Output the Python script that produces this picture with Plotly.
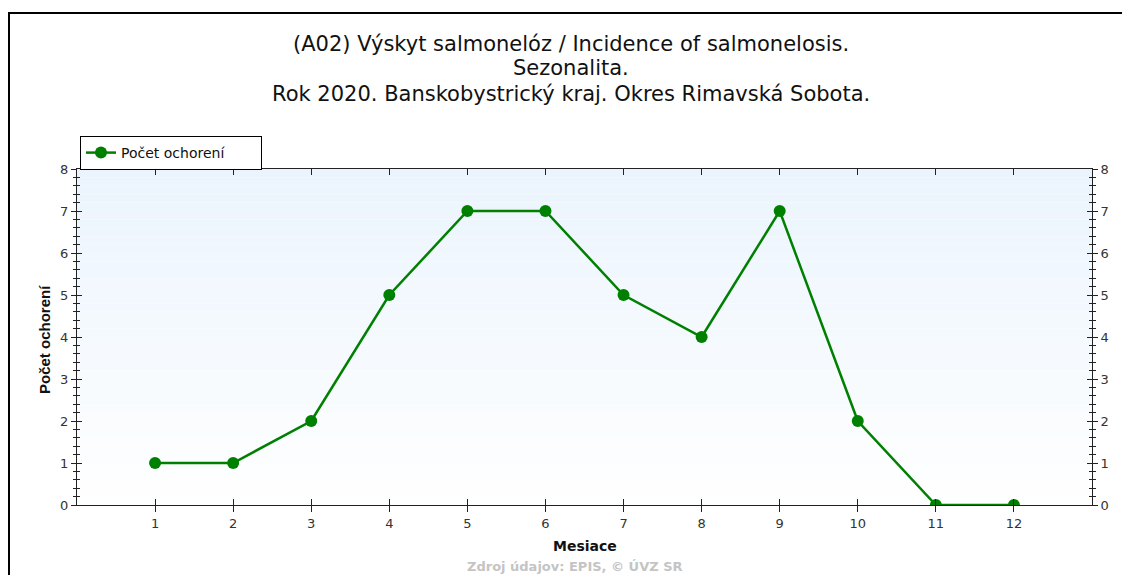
import plotly.graph_objects as go

months = [1, 2, 3, 4, 5, 6, 7, 8, 9, 10, 11, 12]
cases = [1, 1, 2, 5, 7, 7, 5, 4, 7, 2, 0, 0]
series_name = "Počet ochorení"
title_lines = [
    "(A02) Výskyt salmonelóz / Incidence of salmonelosis.",
    "Sezonalita.",
    "Rok 2020. Banskobystrický kraj. Okres Rimavská Sobota.",
]
x_title = "Mesiace"
y_title = "Počet ochorení"
source_text = "Zdroj údajov: EPIS, © ÚVZ SR"

# page body has an 8px default margin: lay out the figure in page pixels minus that offset
OFF = 8
W, H = 1130 - OFF, 575 - OFF
PL, PR, PT, PB = 77, 1092, 169, 505          # plot area in page pixels
L, T = PL - OFF, PT - OFF
R, B = W - (PR - OFF), H - (PB - OFF)
pw, ph = W - L - R, H - T - B

GREEN = "#008000"
FONT = "Liberation Sans, Arial, sans-serif"
WIDE = "DejaVu Sans, Verdana, sans-serif"


def px(x):
    return (x - OFF - L) / pw


def py(y):
    return (H - B - (y - OFF)) / ph


fig = go.Figure()
fig.add_trace(go.Scatter(
    x=months, y=cases, mode="lines+markers", name=series_name,
    line=dict(color=GREEN, width=2.5),
    marker=dict(color=GREEN, size=12, symbol="circle"),
    xaxis="x", yaxis="y",
))

# gradient background bands
shapes = []
n = 40
top = (235, 244, 253)
for i in range(n):
    t = i / n
    c = tuple(round(top[k] + (255 - top[k]) * t) for k in range(3))
    shapes.append(dict(type="rect", xref="x domain", yref="y domain",
                       x0=0, x1=1, y0=1 - (i + 1) / n, y1=1 - i / n,
                       fillcolor="rgb(%d,%d,%d)" % c, line=dict(width=0), layer="below"))
# outer frame
shapes.append(dict(type="rect", xref="paper", yref="paper",
                   x0=px(9), x1=px(1160), y0=py(600), y1=py(13),
                   line=dict(color="black", width=2), fillcolor="rgba(0,0,0,0)", layer="above"))

yr = [0, 8]
xr = [0, 13]
tickfont = dict(family=WIDE, size=13, color="#333333")
common_y = dict(range=yr, dtick=1, tick0=0, showgrid=False, zeroline=False,
                showline=True, linecolor="#222222", linewidth=1, tickcolor="#222222",
                ticklen=5, tickwidth=1, tickfont=tickfont, fixedrange=True, automargin=False,
                minor=dict(dtick=0.2, ticklen=3, tickcolor="#222222", tickwidth=1, showgrid=False))

title_y = [44, 68, 94]
annotations = []
for line, yy in zip(title_lines, title_y):
    annotations.append(dict(text=line, xref="paper", yref="paper", x=px(571), y=py(yy),
                            xanchor="center", yanchor="middle", showarrow=False,
                            font=dict(family=WIDE, size=21, color="#111111")))
annotations.append(dict(text="<b>%s</b>" % x_title, xref="paper", yref="paper",
                        x=px(585), y=py(546), xanchor="center", yanchor="middle", showarrow=False,
                        font=dict(family=WIDE, size=14, color="#111111")))
annotations.append(dict(text="<b>%s</b>" % y_title, xref="paper", yref="paper",
                        x=px(44), y=py(340), xanchor="center", yanchor="middle", showarrow=False,
                        textangle=-90, font=dict(family=FONT, size=15, color="#111111")))
annotations.append(dict(text="<b>%s</b>" % source_text, xref="paper", yref="paper",
                        x=px(575), y=py(566), xanchor="center", yanchor="middle", showarrow=False,
                        font=dict(family=WIDE, size=13, color="#c4c4c4")))

fig.update_layout(
    width=W, height=H,
    margin=dict(l=L, r=R, t=T, b=B, autoexpand=False),
    paper_bgcolor="white", plot_bgcolor="white",
    font=dict(family=FONT, color="#222222"),
    showlegend=True,
    legend=dict(x=px(80), y=py(136), xanchor="left", yanchor="top",
                orientation="h", entrywidth=135, entrywidthmode="pixels",
                bordercolor="black", borderwidth=1, bgcolor="white",
                font=dict(family=WIDE, size=14, color="#111111"),
                tracegroupgap=0),
    xaxis=dict(range=xr, tickmode="array", tickvals=months, ticktext=[str(m) for m in months],
               showgrid=False, zeroline=False, showline=True, linecolor="#222222",
               ticks="outside", ticklen=6, tickcolor="#222222", tickfont=tickfont,
               fixedrange=True, automargin=False),
    xaxis2=dict(range=xr, overlaying="x", side="bottom", tickmode="array", tickvals=months,
                showticklabels=False, showgrid=False, zeroline=False, showline=True,
                linecolor="#222222", ticks="inside", ticklen=6, tickcolor="#222222",
                mirror="ticks", fixedrange=True, automargin=False),
    yaxis=dict(common_y, side="left", ticks="outside", minor_ticks="outside"),
    yaxis2=dict(common_y, side="right", overlaying="y", ticks="outside", minor_ticks="outside"),
    yaxis3=dict(common_y, side="left", overlaying="y", ticks="inside", minor_ticks="inside",
                showticklabels=False, mirror="ticks"),
    shapes=shapes,
    annotations=annotations,
)
# invisible helpers to bind overlay axes
for xa, ya in [("x2", "y"), ("x", "y2"), ("x", "y3")]:
    fig.add_trace(go.Scatter(x=[None], y=[None], xaxis=xa, yaxis=ya, showlegend=False, hoverinfo="skip"))

fig.write_html("out.html")
